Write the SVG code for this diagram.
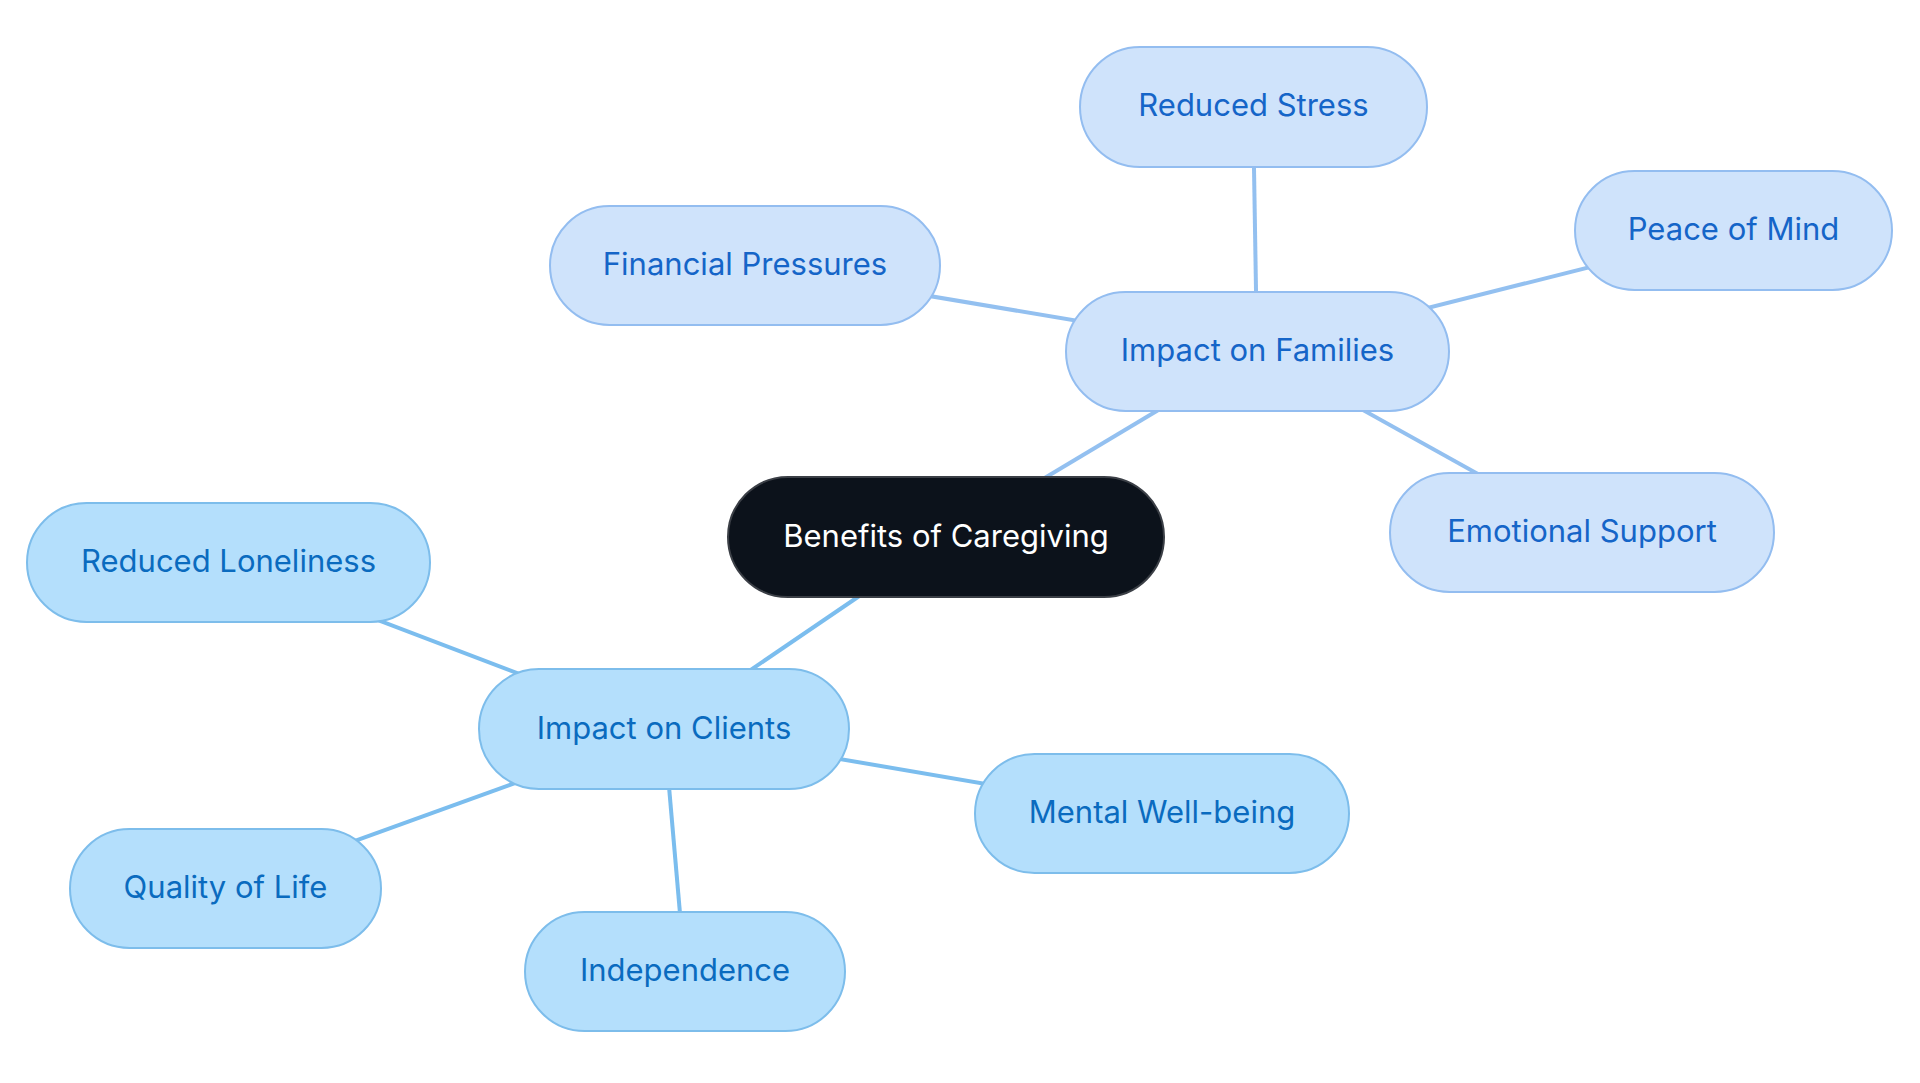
<svg xmlns="http://www.w3.org/2000/svg" width="1920" height="1083" viewBox="0 0 1920 1083">
<style>
.e{stroke-width:4;fill:none}
.ef{stroke:#93c0f0}
.ec{stroke:#7bbdee}
.t{font-family:Inter,"Noto Sans",sans-serif;font-size:31px;text-anchor:middle;dominant-baseline:central}
.fam rect{fill:#cfe3fb;stroke:#93bdf0;stroke-width:2}
.fam text{fill:#1565c8}
.cli rect{fill:#b4dffc;stroke:#7dbdeb;stroke-width:2}
.cli text{fill:#0a6bbf}
</style>
<rect width="1920" height="1083" fill="#ffffff"/>
<g id="connectors">
<line class="e ef" x1="946" y1="537" x2="1257" y2="351"/>
<line class="e ec" x1="946" y1="537" x2="664" y2="729"/>
<line class="e ef" x1="1257" y1="351" x2="1253" y2="107"/>
<line class="e ef" x1="1257" y1="351" x2="745" y2="265"/>
<line class="e ef" x1="1257" y1="351" x2="1733" y2="231"/>
<line class="e ef" x1="1257" y1="351" x2="1582" y2="532"/>
<line class="e ec" x1="664" y1="729" x2="228" y2="563"/>
<line class="e ec" x1="664" y1="729" x2="225" y2="888"/>
<line class="e ec" x1="664" y1="729" x2="685" y2="971"/>
<line class="e ec" x1="664" y1="729" x2="1162" y2="814"/>
</g>
<g id="root">
<rect x="728" y="477" width="436" height="120" rx="60" fill="#0c121b" stroke="#3b3f46" stroke-width="2"/>
<text class="t" x="946" y="535" fill="#ffffff">Benefits of Caregiving</text>
</g>
<g id="families" class="fam">
<rect x="1066" y="292" width="383" height="119" rx="59.5"/>
<text class="t" x="1257.5" y="349">Impact on Families</text>
</g>
<g id="clients" class="cli">
<rect x="479" y="669" width="370" height="120" rx="60"/>
<text class="t" x="664" y="727">Impact on Clients</text>
</g>
<g id="reduced-stress" class="fam">
<rect x="1080" y="47" width="347" height="120" rx="60"/>
<text class="t" x="1253.5" y="104.5">Reduced Stress</text>
</g>
<g id="financial-pressures" class="fam">
<rect x="550" y="206" width="390" height="119" rx="59.5"/>
<text class="t" x="745" y="263">Financial Pressures</text>
</g>
<g id="peace-of-mind" class="fam">
<rect x="1575" y="171" width="317" height="119" rx="59.5"/>
<text class="t" x="1733.5" y="228">Peace of Mind</text>
</g>
<g id="emotional-support" class="fam">
<rect x="1390" y="473" width="384" height="119" rx="59.5"/>
<text class="t" x="1582" y="530">Emotional Support</text>
</g>
<g id="reduced-loneliness" class="cli">
<rect x="27" y="503" width="403" height="119" rx="59.5"/>
<text class="t" x="228.5" y="560">Reduced Loneliness</text>
</g>
<g id="quality-of-life" class="cli">
<rect x="70" y="829" width="311" height="119" rx="59.5"/>
<text class="t" x="225.5" y="886">Quality of Life</text>
</g>
<g id="independence" class="cli">
<rect x="525" y="912" width="320" height="119" rx="59.5"/>
<text class="t" x="685" y="969">Independence</text>
</g>
<g id="mental-well-being" class="cli">
<rect x="975" y="754" width="374" height="119" rx="59.5"/>
<text class="t" x="1162" y="811">Mental Well-being</text>
</g>
</svg>
